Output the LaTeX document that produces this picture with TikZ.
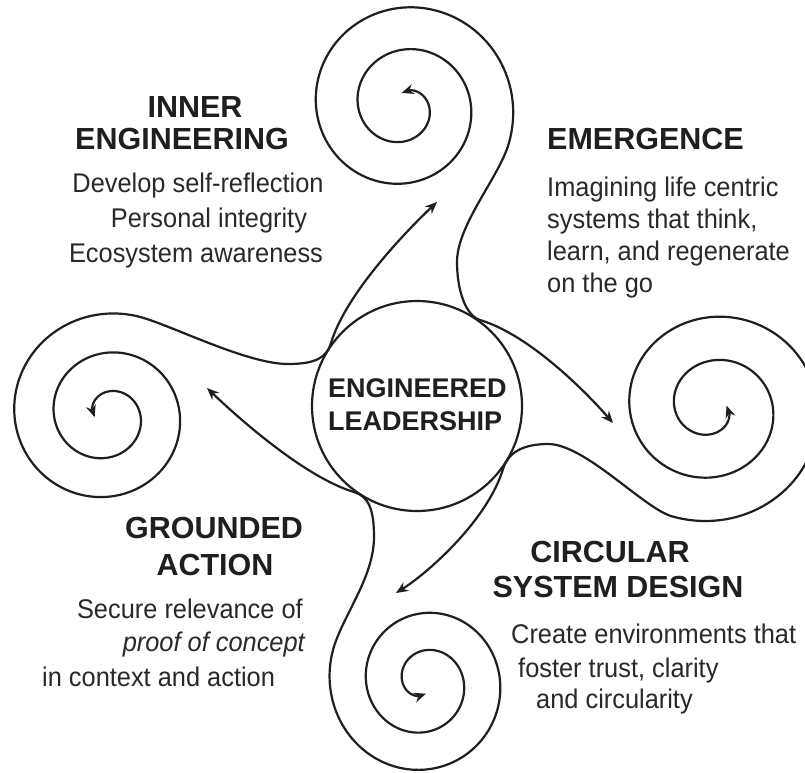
\documentclass[tikz,border=0pt]{standalone}
\usepackage{fontspec}
\setmainfont{Liberation Sans}
\newfontfamily\bodyfont[FakeStretch=0.94]{Liberation Sans}
\usetikzlibrary{arrows.meta}
\begin{document}
\begin{tikzpicture}[x=1pt,y=-1pt,
  curve/.style={line width=2.2pt, draw=black!88, line join=round},
  headtip/.style={{Stealth[length=12pt,width=10pt]}-},
  tip/.style={line width=2.2pt, draw=black!88, -{Stealth[length=12pt,width=10pt]}},
  head/.style={font=\fontsize{30.5}{33}\selectfont\bfseries, text=black!88, inner sep=0pt},
  body/.style={font=\bodyfont\fontsize{27}{32}\selectfont, text=black!84, inner sep=0pt},
  core/.style={font=\fontsize{27}{33}\selectfont\bfseries, text=black!88, inner sep=0pt}]
\useasboundingbox (0,0) rectangle (805,772);
\clip (0,0) rectangle (805,772);
\fill[white] (0,0) rectangle (805,772);

% central circle
\node[draw=black!88, line width=2.2pt, circle, minimum size=210pt, inner sep=0pt] (hub) at (417,406) {};

% top spiral -> arrow to right spiral
\coordinate (Etop) at (613,423);
\coordinate (Ttop) at (480,320);
\coordinate (Mtop) at (457,262);
\coordinate (Stop) at (508.62,144.08);
\draw[curve, headtip] (Etop) .. controls (586.8,392.8) and (530,335) .. (Ttop)
  .. controls (465.6,315.6) and (457,290) .. (Mtop)
  .. controls (457,225) and (498.6,177.6) .. (Stop)
  -- plot[domain=-20:790, samples=280, variable=\t]
  ({404+(109-0.116667*\t)*cos(\t)}, {106-(109-0.116667*\t)*sin(\t)});
\draw[tip] ({404+16.83*cos(790)}, {106-16.83*sin(790)})
  -- ({404+13.33*cos(820)}, {106-13.33*sin(820)});

% right spiral -> arrow to bottom spiral
\coordinate (Eright) at (396,593);
\coordinate (Tright) at (503,469);
\coordinate (Mright) at (548,444);
\coordinate (Sright) at (671.76,516.28);
\draw[curve, headtip] (Eright) .. controls (429.8,571.6) and (488,519) .. (Tright)
  .. controls (507.4,454.6) and (520,444) .. (Mright)
  .. controls (585,444) and (643,507.7) .. (Sright)
  -- plot[domain=-20:790, samples=280, variable=\t]
  ({712.5+1.07*(109-0.116667*\t)*cos(\t-90)}, {408-1.035*(109-0.116667*\t)*sin(\t-90)});
\draw[tip] ({712.5+1.07*16.83*cos(700)}, {408-1.035*16.83*sin(700)})
  -- ({712.5+1.07*13.33*cos(730)}, {408-1.035*13.33*sin(730)});

% bottom spiral -> arrow to left spiral
\coordinate (Ebottom) at (207,388);
\coordinate (Tbottom) at (354,492);
\coordinate (Mbottom) at (374,537);
\coordinate (Sbottom) at (333.5,648.1);
\draw[curve, headtip] (Ebottom) .. controls (235.8,415.6) and (304,477) .. (Tbottom)
  .. controls (368.4,496.4) and (374,509) .. (Mbottom)
  .. controls (374,577) and (343.5,614.6) .. (Sbottom)
  -- plot[domain=-20:790, samples=280, variable=\t]
  ({424+0.865*(109-0.116667*\t)*cos(\t+180)}, {682-0.89*(109-0.116667*\t)*sin(\t+180)});
\draw[tip] ({424+0.865*16.83*cos(970)}, {682-0.89*16.83*sin(970)})
  -- ({424+0.865*13.33*cos(1000)}, {682-0.89*13.33*sin(1000)});

% left spiral -> arrow to top spiral
\coordinate (Eleft) at (437,202);
\coordinate (Tleft) at (331,343);
\coordinate (Mleft) at (288,364);
\coordinate (Sleft) at (142.8,317.7);
\draw[curve, headtip] (Eleft) .. controls (407.8,229.6) and (346,293) .. (Tleft)
  .. controls (326.6,357.4) and (316,364) .. (Mleft)
  .. controls (248,364) and (176.3,327.7) .. (Sleft)
  -- plot[domain=-20:790, samples=280, variable=\t]
  ({107+0.94*(109-0.116667*\t)*cos(\t+90)}, {415-0.93*(109-0.116667*\t)*sin(\t+90)});
\draw[tip] ({107+0.94*16.83*cos(880)}, {415-0.93*16.83*sin(880)})
  -- ({107+0.94*13.33*cos(910)}, {415-0.93*13.33*sin(910)});

% centre text
\node[core, anchor=base west] (c1) at (328,397) {ENGINEERED};
\node[core, anchor=base west] (c2) at (328,430) {LEADERSHIP};

% inner engineering
\node[head, anchor=base] (ie1) at (195,117) {INNER};
\node[head, anchor=base] (ie2) at (182,149) {ENGINEERING};
\node[body, anchor=base] (ie3) at (198,192) {Develop self-reflection};
\node[body, anchor=base] (ie4) at (209,227) {Personal integrity};
\node[body, anchor=base] (ie5) at (196,262) {Ecosystem awareness};

% emergence
\node[head, anchor=base west] (em1) at (547,149) {EMERGENCE};
\node[body, anchor=base west] (em2) at (547,196) {Imagining life centric};
\node[body, anchor=base west] (em3) at (547,228) {systems that think,};
\node[body, anchor=base west] (em4) at (547,260) {learn, and regenerate};
\node[body, anchor=base west] (em5) at (547,292) {on the go};

% grounded action
\node[head, anchor=base] (ga1) at (214,538) {GROUNDED};
\node[head, anchor=base] (ga2) at (215,575) {ACTION};
\node[body, anchor=base east] (ga3) at (303,618) {Secure relevance of};
\node[body, anchor=base east] (ga4) at (305,651) {\itshape proof of concept};
\node[body, anchor=base west] (ga5) at (42,686) {in context and action};

% circular system design
\node[head, anchor=base] (cs1) at (610,562) {CIRCULAR};
\node[head, anchor=base] (cs2) at (618,597) {SYSTEM DESIGN};
\node[body, anchor=base west] (cs3) at (511,643) {Create environments that};
\node[body, anchor=base west] (cs4) at (518,677) {foster trust, clarity};
\node[body, anchor=base west] (cs5) at (536,708) {and circularity};
\end{tikzpicture}
\end{document}
